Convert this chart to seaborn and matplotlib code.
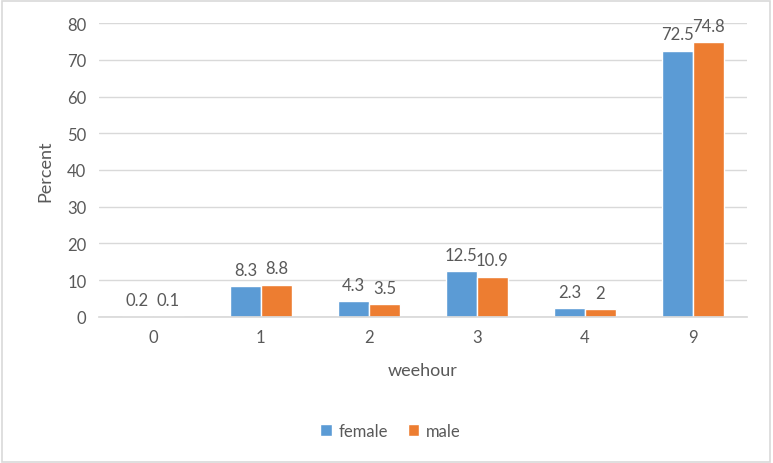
import matplotlib
matplotlib.use("Agg")
import matplotlib.pyplot as plt
import pandas as pd
import seaborn as sns

# data
categories = ["0", "1", "2", "3", "4", "9"]
female = [0.2, 8.3, 4.3, 12.5, 2.3, 72.5]
male = [0.1, 8.8, 3.5, 10.9, 2.0, 74.8]
label_female = ["0.2", "8.3", "4.3", "12.5", "2.3", "72.5"]
label_male = ["0.1", "8.8", "3.5", "10.9", "2", "74.8"]

df = pd.DataFrame({
    "weehour": categories * 2,
    "Percent": female + male,
    "sex": ["female"] * len(categories) + ["male"] * len(categories),
})

sns.set_theme(style="white")
plt.rcParams["font.family"] = ["Lato", "DejaVu Sans"]
GREY = "#595959"

fig = plt.figure(figsize=(7.73, 4.64), dpi=100)
ax = fig.add_axes([0.128, 0.315, 0.838, 0.633])

sns.barplot(data=df, x="weehour", y="Percent", hue="sex", order=categories,
            hue_order=["female", "male"], palette=["#5B9BD5", "#ED7D31"],
            width=0.575, saturation=1, ax=ax, legend=True)

for cont, labels in zip(ax.containers, [label_female, label_male]):
    ax.bar_label(cont, labels=labels, padding=6, fontsize=12, color=GREY)

ax.set_ylim(0, 80)
ax.set_xlim(-0.5, 5.5)
ax.set_yticks(range(0, 81, 10))
ax.yaxis.grid(True, color="#D9D9D9", lw=1)
ax.set_axisbelow(True)
for s in ["top", "right", "left"]:
    ax.spines[s].set_visible(False)
ax.spines["bottom"].set_color("#D9D9D9")
ax.tick_params(axis="both", length=0, labelsize=12, colors=GREY, pad=9)
ax.set_xlabel("weehour", fontsize=13, color=GREY, labelpad=12)
ax.set_ylabel("Percent", fontsize=13, color=GREY, labelpad=10)

ax.legend(loc="center", bbox_to_anchor=(0.505, 0.069), bbox_transform=fig.transFigure,
          ncol=2, frameon=False, fontsize=12, labelcolor=GREY,
          handlelength=0.7, handleheight=0.7, handletextpad=0.4, columnspacing=1.2)

fig.patches.append(plt.Rectangle((0.002, 0.003), 0.994, 0.993, transform=fig.transFigure,
                                 fill=False, edgecolor="#D9D9D9", lw=1.2))

fig.savefig("out.png", dpi=100)
